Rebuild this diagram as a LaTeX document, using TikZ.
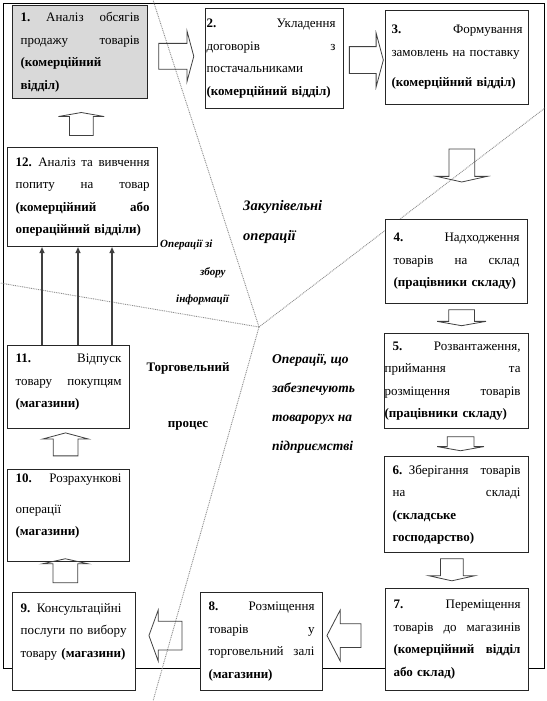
\documentclass[tikz,border=0pt]{standalone}
\usepackage{fontspec}
\setmainfont{Liberation Serif}
\usetikzlibrary{positioning,arrows.meta,shapes.arrows,calc}

\begin{document}
\begin{tikzpicture}[
  x=1pt,y=-1pt,
  font=\fontsize{13}{22.5}\selectfont,
  box/.style={draw=black!85,line width=1.1pt,fill=white,anchor=north west,
    inner xsep=8pt,inner ysep=4pt,align=left},
  barrow/.style={single arrow,draw=black!75,line width=0.8pt,inner xsep=0pt,
    inner ysep=12.5pt,single arrow head extend=12.5pt,single arrow tip angle=150},
  sep/.style={draw=black!45,line width=0.9pt,dash pattern=on 0.9pt off 0.9pt},
  info/.style={-{Triangle[length=6pt,width=5pt]},line width=1.1pt,draw=black!75},
  op/.style={font=\fontsize{13.5}{29}\selectfont\bfseries\itshape,align=left,
    inner sep=0pt,anchor=north west}
]
\useasboundingbox (0,0) rectangle (546,701);

% ---------------- frame and borders between the groups ----------------
\draw[line width=0.9pt] (3,3) rectangle (544,668);
\coordinate (mid) at (259,327);
\draw[sep] (mid) -- (153,0);
\draw[sep] (mid) -- (0,283);
\draw[sep] (mid) -- (545,108);
\draw[sep] (mid) -- (153,701);

% ---------------- top row ----------------
\node[box,fill=black!15,minimum width=135pt,minimum height=93pt,text width=119pt] (b1) at (12,5)
  {\textbf{1.}\hfill Аналіз\hfill обсягів\\ продажу\hfill товарів\\ \textbf{(комерційний}\\ \textbf{відділ)}};
\node[box,minimum width=138pt,minimum height=100pt,text width=122pt] (b2) at (205,8)
  {\hspace*{-7pt}\textbf{2.}\hfill Укладення\\ \hspace*{-7pt}договорів\hfill з\\ \hspace*{-7pt}постачальниками\\ \hspace*{-7pt}\textbf{(комерційний відділ)}};
\node[box,inner xsep=6pt,minimum width=143pt,minimum height=94pt,text width=131pt] (b3) at (385,10)
  {\textbf{3.}\hfill Формування\\ \mbox{замовлень на поставку}\\[8pt] \textbf{(комерційний відділ)}};

% ---------------- right column ----------------
\node[box,minimum width=142pt,minimum height=84pt,text width=126pt] (b4) at (385,219)
  {\textbf{4.}\hfill Надходження\\ товарів\hfill на\hfill склад\\ \textbf{(працівники складу)}};
\node[box,minimum width=144pt,minimum height=95pt,text width=128pt] (b5) at (384,333)
  {\textbf{5.}\hfill Розвантаження,\\ \hspace*{-8pt}приймання\hfill та\\ \hspace*{-8pt}розміщення\hfill товарів\\ \hspace*{-8pt}\textbf{(працівники складу)}};
\node[box,minimum width=144pt,minimum height=96pt,text width=128pt] (b6) at (384,456)
  {\textbf{6.} Зберігання\hfill товарів\\ на\hfill складі\\ \textbf{(складське}\\ \textbf{господарство)}};
\node[box,minimum width=143pt,minimum height=102pt,text width=127pt] (b7) at (385,588)
  {\textbf{7.}\hfill Переміщення\\ товарів\hfill до\hfill магазинів\\ \textbf{(комерційний\hfill відділ}\\ \textbf{або склад)}};

% ---------------- bottom row and left column ----------------
\node[box,minimum width=122pt,minimum height=98pt,text width=106pt] (b8) at (200,592)
  {\textbf{8.}\hfill Розміщення\\ товарів\hfill у\\ торговельний\hfill залі\\ \textbf{(магазини)}};
\node[box,minimum width=123pt,minimum height=98pt,text width=107pt] (b9) at (12,592)
  {\textbf{9.} Консультаційні\\ послуги по вибору\\ товару \textbf{(магазини)}\\ \mbox{}};
\node[box,minimum width=122pt,minimum height=83pt,text width=106pt] (b10) at (7,469)
  {\textbf{10.}\hfill Розрахункові\\[9pt] операції\\[-1pt] \textbf{(магазини)}\\ \mbox{}};
\node[box,minimum width=122pt,minimum height=83pt,text width=106pt] (b11) at (7,345)
  {\textbf{11.}\hfill Відпуск\\ товару\hfill покупцям\\ \textbf{(магазини)}\\[-10pt] \mbox{}};
\node[box,minimum width=150pt,minimum height=99pt,text width=134pt] (b12) at (7,147)
  {\textbf{12.} Аналіз\hfill та\hfill вивчення\\ попиту\hfill на\hfill товар\\ \textbf{(комерційний\hfill або}\\ \textbf{операційний відділи)}};

% ---------------- block arrows ----------------
\node[barrow,minimum height=35pt] (a12) at ($(b1.east)!.5!(b2.west)+(-2,1)$) {};
\node[barrow,minimum height=34pt,inner ysep=13pt,single arrow head extend=13.5pt] (a23) at ($(b2.east)!.5!(b3.west)+(0,2)$) {};
\node[barrow,rotate=-90,minimum height=33pt,single arrow tip angle=155] (a34) at ($(b3.south)!.5!(b4.north)+(5,2)$) {};
\node[barrow,rotate=-90,minimum height=16pt,single arrow head extend=11.5pt,single arrow tip angle=160] (a45) at ($(b4.south)!.5!(b5.north)+(5,-2)$) {};
\node[barrow,rotate=-90,minimum height=14pt,inner ysep=13pt,single arrow head extend=10pt,single arrow tip angle=160] (a56) at ($(b5.south)!.5!(b6.north)+(4,0)$) {};
\node[barrow,rotate=-90,minimum height=22pt,inner ysep=11pt,single arrow head extend=11.5pt,single arrow tip angle=155] (a67) at ($(b6.south)!.5!(b7.north)+(-5,-2)$) {};
\node[barrow,rotate=180,minimum height=34pt,inner ysep=11.5pt,single arrow head extend=13.5pt,single arrow tip angle=125] (a78) at ($(b8.east)!.5!(b7.west)+(-7,-5)$) {};
\node[barrow,rotate=180,minimum height=33pt,inner ysep=14pt,single arrow head extend=11pt,single arrow tip angle=140] (a89) at ($(b9.east)!.5!(b8.west)+(0,-6)$) {};
\node[barrow,rotate=90,minimum height=24pt,inner ysep=12pt,single arrow head extend=10.5pt,single arrow tip angle=155] (a910) at ($(b9.north)!.5!(b10.south)+(-6,-5)$) {};
\node[barrow,rotate=90,minimum height=23pt,inner ysep=12pt,single arrow head extend=10.5pt,single arrow tip angle=150] (a1011) at ($(b10.north)!.5!(b11.south)+(-3,-3)$) {};
\node[barrow,rotate=90,minimum height=23pt,inner ysep=11.5pt,single arrow head extend=11pt,single arrow tip angle=160] (a121) at ($(b12.north)!.5!(b1.south)+(0,2)$) {};

% ---------------- information flows 11 -> 12 ----------------
\coordinate (i1) at ([xshift=35pt]b11.north west);
\coordinate (i2) at ([xshift=71pt]b11.north west);
\coordinate (i3) at ([xshift=105pt]b11.north west);
\draw[info] (i1) -- (i1 |- b12.south);
\draw[info] (i2) -- (i2 |- b12.south);
\draw[info] (i3) -- (i3 |- b12.south);

% ---------------- group labels ----------------
\node[op,font=\fontsize{14.5}{30}\selectfont\bfseries\itshape] (zak) at (243,200) {Закупівельні\\операції};
\node[op] (tovr) at (272,354) {Операції, що\\ забезпечують\\товарорух на\\підприємстві};
\node[font=\fontsize{13}{22}\selectfont\bfseries,align=center,inner sep=0pt,anchor=north] (torg) at (188,362)
  {Торговельний\\[34pt]процес};
\node[font=\fontsize{11}{27.5}\selectfont\bfseries\itshape,align=left,inner sep=0pt,anchor=north west] (zbir) at (160,240)
  {Операції зі\\\hspace*{40pt}збору\\\hspace*{16pt}інформації};
\end{tikzpicture}
\end{document}
